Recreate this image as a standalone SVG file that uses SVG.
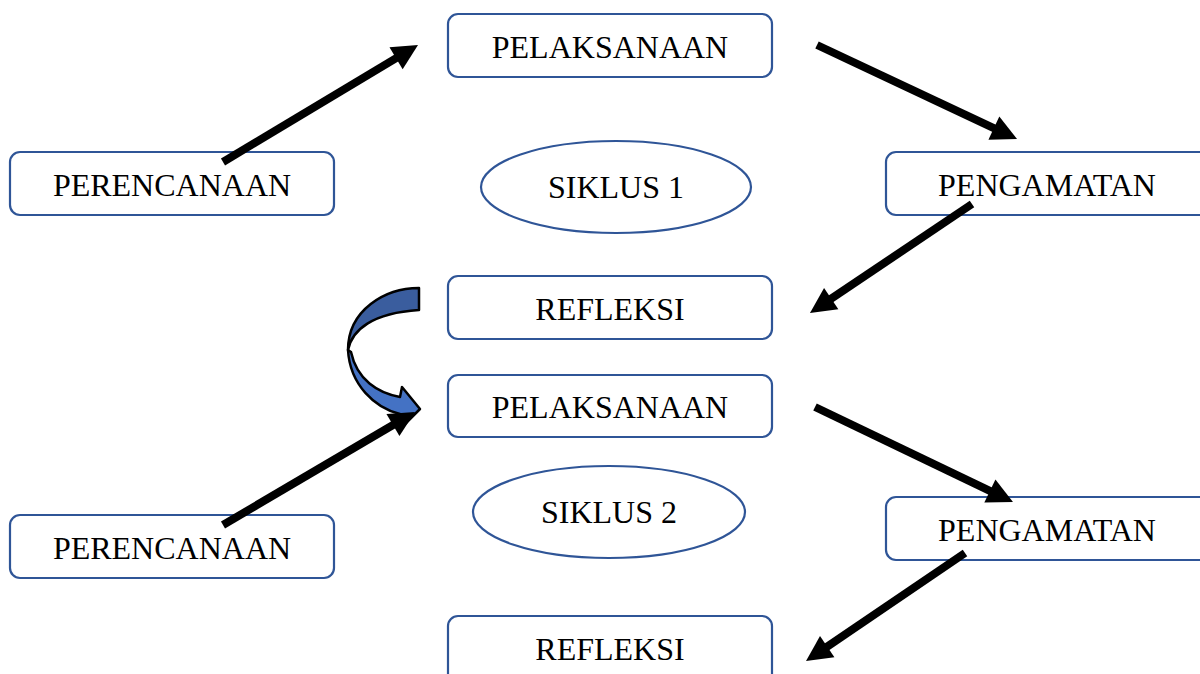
<svg xmlns="http://www.w3.org/2000/svg" width="1200" height="674" viewBox="0 0 1200 674">
<style>
.box{fill:#fff;stroke:#2f5597;stroke-width:2.2}
.t{font-family:"Liberation Serif","Times New Roman",serif;font-size:32px;fill:#000;text-anchor:middle}
.ar{stroke:#000;stroke-width:8;fill:none;marker-end:url(#ah)}
</style>
<defs>
<marker id="ah" markerUnits="strokeWidth" markerWidth="3.4" markerHeight="3.4" refX="0.5" refY="1.6" orient="auto" overflow="visible">
<path d="M0,0 L3.2,1.6 L0,3.2 z" fill="#000"/>
</marker>
</defs>
<rect width="1200" height="674" fill="#fff"/>
<g id="pelaksanaan1"><rect class="box" x="448" y="14" width="324" height="63" rx="10"/><text class="t" x="610" y="58">PELAKSANAAN</text></g>
<g id="perencanaan1"><rect class="box" x="10" y="152" width="324" height="63" rx="10"/><text class="t" x="172" y="196">PERENCANAAN</text></g>
<g id="pengamatan1"><rect class="box" x="886" y="152" width="330" height="63" rx="10"/><text class="t" x="1047" y="196">PENGAMATAN</text></g>
<g id="siklus1"><ellipse class="box" cx="616" cy="187" rx="135" ry="46"/><text class="t" x="616" y="198">SIKLUS 1</text></g>
<g id="refleksi1"><rect class="box" x="448" y="276" width="324" height="63" rx="10"/><text class="t" x="610" y="320">REFLEKSI</text></g>
<g id="pelaksanaan2"><rect class="box" x="448" y="375" width="324" height="62" rx="10"/><text class="t" x="610" y="418">PELAKSANAAN</text></g>
<g id="siklus2"><ellipse class="box" cx="609" cy="512" rx="136" ry="46"/><text class="t" x="609" y="523">SIKLUS 2</text></g>
<g id="perencanaan2"><rect class="box" x="10" y="515" width="324" height="63" rx="10"/><text class="t" x="172" y="559">PERENCANAAN</text></g>
<g id="pengamatan2"><rect class="box" x="886" y="497" width="330" height="63" rx="10"/><text class="t" x="1047" y="541">PENGAMATAN</text></g>
<g id="refleksi2"><rect class="box" x="448" y="616" width="324" height="80" rx="10"/><text class="t" x="610" y="660">REFLEKSI</text></g>
<g id="connectors">
<g id="curved">
<path d="M419,288 C385,288 348,310 348,350 C352,330 372,313 419,310 Z" fill="#3a5d9e" stroke="#000" stroke-width="2.5" stroke-linejoin="round"/>
<path d="M348,350 C350,385 375,408 400,414 L404,425 L420,409 L402,387 L400,397 C378,393 357,380 351,352 Z" fill="#4472c4" stroke="#000" stroke-width="2.5" stroke-linejoin="round"/>
</g>
<line class="ar" x1="223" y1="162" x2="399.5" y2="56.1"/>
<line class="ar" x1="817" y1="45" x2="997.5" y2="129.8"/>
<line class="ar" x1="972" y1="204" x2="827.9" y2="300.9"/>
<line class="ar" x1="223" y1="525" x2="396.4" y2="423"/>
<line class="ar" x1="815" y1="407" x2="993.5" y2="492.7"/>
<line class="ar" x1="965" y1="553" x2="823.9" y2="648.9"/>
</g>
</svg>
